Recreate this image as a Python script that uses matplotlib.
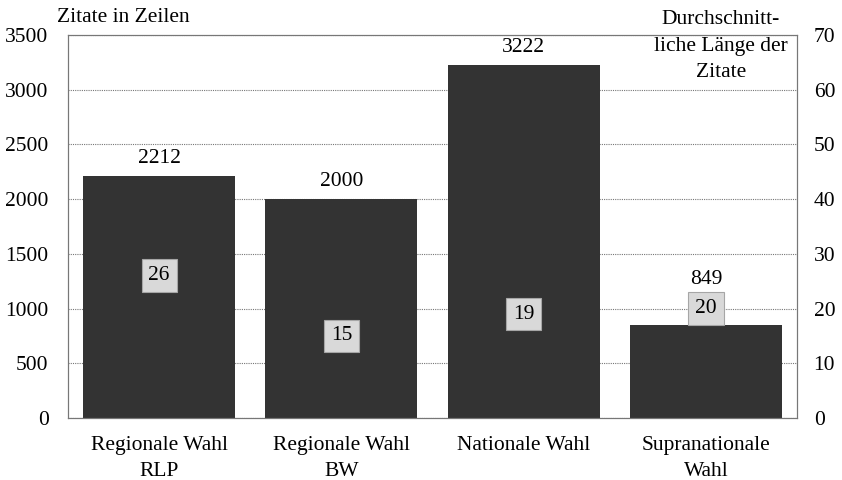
import matplotlib
import matplotlib.pyplot as plt

matplotlib.use('Agg')

categories = ['Regionale Wahl\nRLP', 'Regionale Wahl\nBW', 'Nationale Wahl', 'Supranationale\nWahl']
zeilen = [2212, 2000, 3222, 849]
laenge = [26, 15, 19, 20]

plt.rcParams['font.family'] = ['Liberation Serif', 'DejaVu Serif']
plt.rcParams['font.size'] = 15.5

fig = plt.figure(figsize=(8.42, 4.8), dpi=100)
ax = fig.add_axes([68 / 842, 62 / 480, 729 / 842, 383 / 480])
ax2 = ax.twinx()

x = range(len(categories))
ax.bar(x, zeilen, width=0.834, color='#333333', zorder=2)
ax.set_xlim(-0.5, 3.5)
ax.set_ylim(0, 3500)
ax.set_yticks(range(0, 3501, 500))
ax.yaxis.grid(True, color='#777777', linestyle=(0, (1, 1)), linewidth=0.8, zorder=0)
ax.set_axisbelow(True)
ax.set_xticks(list(x))
ax.set_xticklabels(categories, linespacing=1.5)
ax.tick_params(axis='y', length=0, pad=14)
ax.tick_params(axis='x', length=0, pad=13)

# value labels above the bars; the last one sits higher to clear the box
label_offsets = [6, 6, 6, 26]
for i, v in enumerate(zeilen):
  ax.annotate(str(v), (i, v), xytext=(0, label_offsets[i]), textcoords='offset points',
              ha='center', va='bottom')

ax2.set_ylim(0, 70)
ax2.set_yticks(range(0, 71, 10))
ax2.tick_params(length=0, pad=12)
for i, v in enumerate(laenge):
  ax2.text(i, v, str(v), ha='center', va='center', zorder=5,
           bbox=dict(boxstyle='square,pad=0.32', facecolor='#d9d9d9', edgecolor='#a6a6a6', linewidth=0.8))

for a in (ax, ax2):
  for s in a.spines.values():
    s.set_color('#777777')
    s.set_linewidth(0.8)

fig.text(57 / 842, 1 - 18 / 480, 'Zitate in Zeilen', ha='left', va='center')
fig.text(721 / 842, 1 - 10 / 480, 'Durchschnitt-\nliche Länge der\nZitate', ha='center', va='top',
         linespacing=1.55)

plt.savefig('out.png', dpi=100)
